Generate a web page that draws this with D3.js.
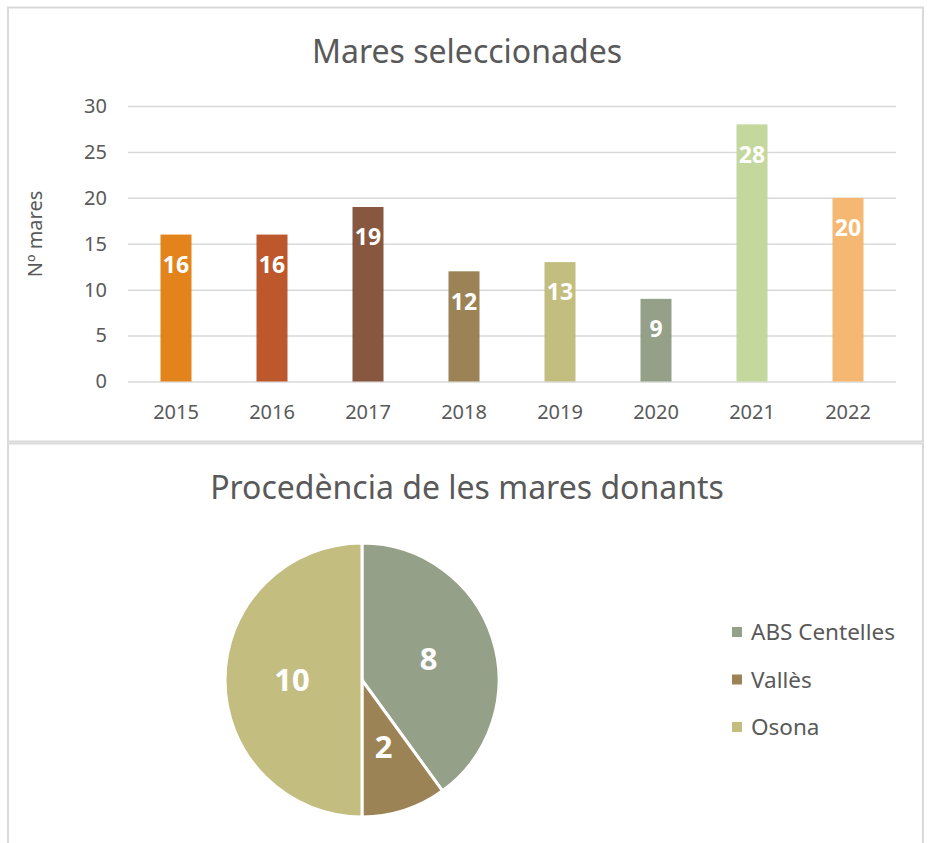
<!DOCTYPE html>
<html>
<head>
<meta charset="utf-8">
<script src="https://cdn.jsdelivr.net/npm/d3@7"></script>
<style>
  body { margin: 0; background: #fff; }
  text { font-family: "Noto Sans", "Open Sans", sans-serif; }
</style>
</head>
<body>
<script>
// bar chart data
const years = ["2015", "2016", "2017", "2018", "2019", "2020", "2021", "2022"];
const mares = [16, 16, 19, 12, 13, 9, 28, 20];
const barColors = ["#E3831B", "#BC582C", "#875740", "#9C8356", "#C4BD80", "#94A087", "#C4D79C", "#F4B872"];
const yTicks = [0, 5, 10, 15, 20, 25, 30];

// pie chart data
const origins = ["ABS Centelles", "Vallès", "Osona"];
const donants = [8, 2, 10];
const pieColors = ["#94A088", "#9C8356", "#C4BD80"];

const svgWidth = 928;
const svgHeight = 843;
const labelColor = "#595959";
const gridColor = "#d9d9d9";

const svg = d3.select("body")
    .append("svg")
    .attr("width", svgWidth)
    .attr("height", svgHeight);

// panel borders
svg.append("rect")
    .attr("x", 8).attr("y", 7.5)
    .attr("width", 915).attr("height", 434)
    .attr("fill", "none").attr("stroke", gridColor).attr("stroke-width", 2);
svg.append("rect")
    .attr("x", 8).attr("y", 443.5)
    .attr("width", 915).attr("height", 420)
    .attr("fill", "none").attr("stroke", gridColor).attr("stroke-width", 2);

// ---- bar chart ----
const plot = {left: 128, right: 896, top: 106, bottom: 381.5};

svg.append("text")
    .attr("x", 467).attr("y", 63)
    .attr("text-anchor", "middle")
    .attr("font-size", "32px")
    .attr("fill", labelColor)
    .text("Mares seleccionades");

const scaleX = d3.scaleBand()
    .domain(years)
    .range([plot.left, plot.right])
    .paddingInner(0.677)
    .paddingOuter(0.3385);

const scaleY = d3.scaleLinear()
    .domain([0, 30])
    .range([plot.bottom, plot.top]);

// y axis + gridlines
const yAxis = svg.append("g")
    .attr("transform", `translate(${plot.left},0)`)
    .call(d3.axisLeft(scaleY)
        .tickValues(yTicks)
        .tickSize(-(plot.right - plot.left))
        .tickPadding(21));
yAxis.select(".domain").remove();
yAxis.selectAll("line").attr("stroke", gridColor).attr("stroke-width", 1.5);
yAxis.selectAll("text")
    .attr("fill", labelColor)
    .attr("font-size", "20px")
    .attr("font-family", "'Noto Sans', sans-serif");

// x axis
const xAxis = svg.append("g")
    .attr("transform", `translate(0,${plot.bottom})`)
    .call(d3.axisBottom(scaleX).tickSize(0).tickPadding(23));
xAxis.select(".domain").remove();
xAxis.selectAll("text")
    .attr("fill", labelColor)
    .attr("font-size", "20px")
    .attr("font-family", "'Noto Sans', sans-serif");

svg.append("text")
    .attr("transform", "translate(42,234) rotate(-90)")
    .attr("text-anchor", "middle")
    .attr("font-size", "20px")
    .attr("fill", labelColor)
    .text("Nº mares");

const barData = years.map((y, i) => ({year: y, value: mares[i], color: barColors[i]}));

svg.append("g")
    .selectAll("rect")
    .data(barData)
    .join("rect")
    .attr("x", d => scaleX(d.year))
    .attr("y", d => scaleY(d.value))
    .attr("width", scaleX.bandwidth())
    .attr("height", d => scaleY(0) - scaleY(d.value))
    .attr("fill", d => d.color);

svg.append("g")
    .selectAll("text")
    .data(barData)
    .join("text")
    .attr("x", d => scaleX(d.year) + scaleX.bandwidth() / 2)
    .attr("y", d => scaleY(d.value) + 30)
    .attr("dy", "0.36em")
    .attr("text-anchor", "middle")
    .attr("font-size", "23px")
    .attr("font-weight", "bold")
    .attr("fill", "#fff")
    .text(d => d.value);

// ---- pie chart ----
svg.append("text")
    .attr("x", 467).attr("y", 499)
    .attr("text-anchor", "middle")
    .attr("font-size", "32px")
    .attr("fill", labelColor)
    .text("Procedència de les mares donants");

const pieData = origins.map((o, i) => ({name: o, value: donants[i], color: pieColors[i]}));
const radius = 137;
const pie = d3.pie().sort(null).value(d => d.value);
const arc = d3.arc().innerRadius(0).outerRadius(radius);
const labelArc = d3.arc().innerRadius(70).outerRadius(70);

const pieG = svg.append("g").attr("transform", "translate(362,680)");

pieG.selectAll("path")
    .data(pie(pieData))
    .join("path")
    .attr("d", arc)
    .attr("fill", d => d.data.color)
    .attr("stroke", "#fff")
    .attr("stroke-width", 3);

pieG.selectAll("text")
    .data(pie(pieData))
    .join("text")
    .attr("transform", d => `translate(${labelArc.centroid(d)})`)
    .attr("dy", "0.36em")
    .attr("text-anchor", "middle")
    .attr("font-size", "31px")
    .attr("font-weight", "bold")
    .attr("fill", "#fff")
    .text(d => d.data.value);

// legend
const legend = svg.append("g")
    .selectAll("g")
    .data(pieData)
    .join("g")
    .attr("transform", (d, i) => `translate(732,${632 + i * 47.5})`);

legend.append("rect")
    .attr("x", 0).attr("y", -5)
    .attr("width", 10).attr("height", 10)
    .attr("fill", d => d.color);

legend.append("text")
    .attr("x", 19)
    .attr("dy", "0.36em")
    .attr("font-size", "22.5px")
    .attr("fill", labelColor)
    .text(d => d.name);
</script>
</body>
</html>
